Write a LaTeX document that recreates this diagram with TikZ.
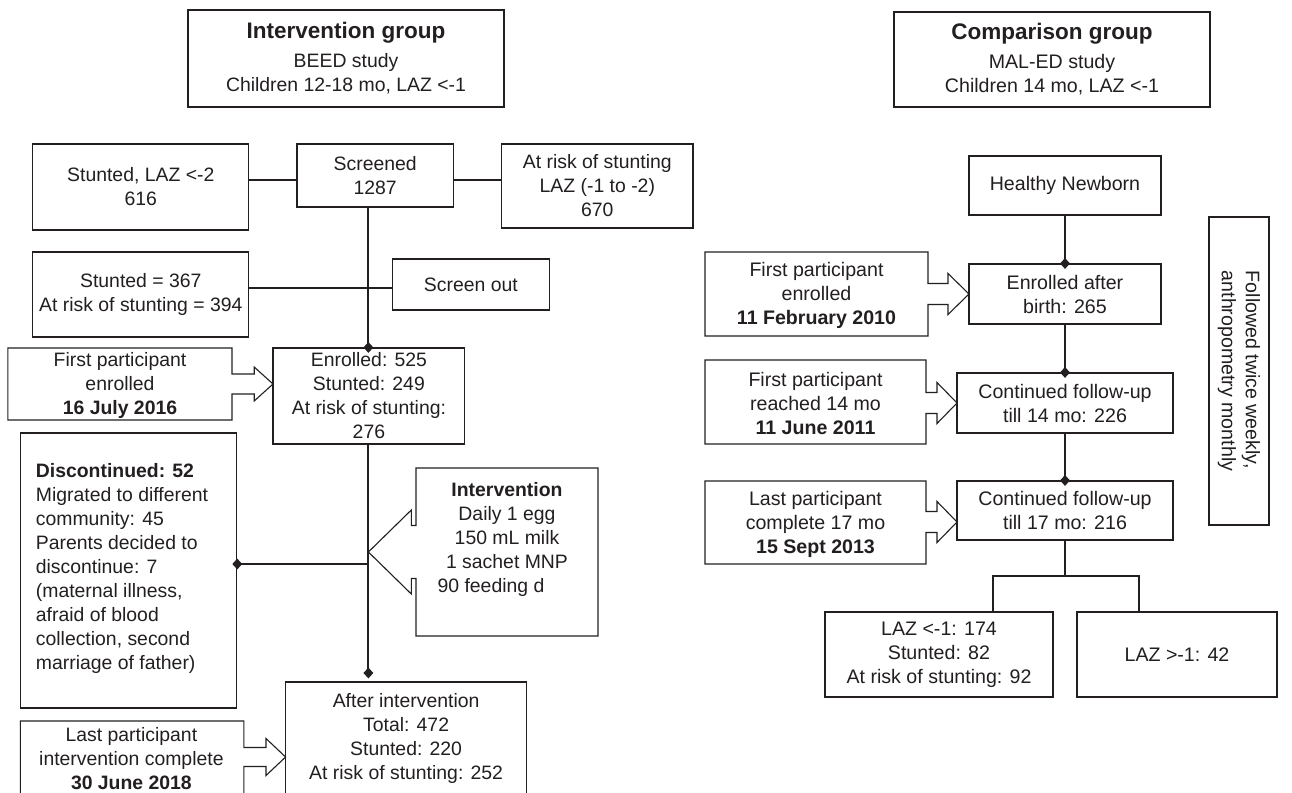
\documentclass[tikz,border=0pt]{standalone}
\usepackage{fontspec}
\setmainfont{Liberation Sans}
\usetikzlibrary{shapes.geometric}
\definecolor{ink}{RGB}{35,31,32}
\newcommand\szL{\fontsize{19.4}{24}\selectfont}
\newcommand\szR{\fontsize{19.6}{24}\selectfont}
\newcommand\szT{\fontsize{22.5}{24}\selectfont\bfseries}
% right-pointing callout: x1 y1 x2 y2 tipy stemhalf headhalf headx tipx
\newcommand\calloutR[9]{\draw[cbox] (#1,#2) -- (#3,#2) -- (#3,#5-#6) -- (#8,#5-#6) -- (#8,#5-#7) -- (#9,#5) -- (#8,#5+#7) -- (#8,#5+#6) -- (#3,#5+#6) -- (#3,#4) -- (#1,#4) -- cycle;}
% left-pointing callout
\newcommand\calloutL[9]{\draw[cbox] (#1,#2) -- (#3,#2) -- (#3,#4) -- (#1,#4) -- (#1,#5+#6) -- (#8,#5+#6) -- (#8,#5+#7) -- (#9,#5) -- (#8,#5-#7) -- (#8,#5-#6) -- (#1,#5-#6) -- cycle;}
\begin{document}
\begin{tikzpicture}[x=1pt,y=-1pt,
  box/.style={draw=ink, line width=1.1pt, inner sep=0pt, align=center, text=ink},
  lbox/.style={box, font=\szL},
  rbox/.style={box, font=\szR},
  cbox/.style={draw=ink, line width=1.1pt, line join=miter},
  ltxt/.style={inner sep=0pt, align=center, text=ink, font=\szL},
  rtxt/.style={inner sep=0pt, align=center, text=ink, font=\szR},
  trunk/.style={draw=ink, line width=1.9pt},
  link/.style={draw=ink, line width=1.3pt},
  dmd/.style={diamond, fill=ink, draw=none, inner sep=0pt, minimum width=10pt, minimum height=11pt},
]
\fill[white] (0,0) rectangle (1292,792);
\useasboundingbox (0,0) rectangle (1292,792);

% ---------- titles ----------
\node[lbox, minimum width=316, minimum height=97] (ig) at (346,58.5)
  {{\szT Intervention group}\\[5pt]BEED study\\Children 12-18 mo, LAZ <-1};
\node[rbox, minimum width=316, minimum height=95] (cg) at (1052,59.5)
  {{\szT Comparison group}\\[5pt]MAL-ED study\\Children 14 mo, LAZ <-1};

% ---------- left column ----------
\node[lbox, minimum width=216, minimum height=86] (stunted) at (140.8,187) {Stunted, LAZ <-2\\616};
\node[lbox, minimum width=156.4, minimum height=63] (screened) at (375.2,175.5) {Screened\\1287};
\node[lbox, minimum width=191.4, minimum height=84] (atrisk) at (597.3,186) {At risk of stunting\\LAZ (-1 to -2)\\670};
\node[lbox, minimum width=216, minimum height=85] (st367) at (140.8,294.5) {Stunted = 367\\At risk of stunting = 394};
\node[lbox, minimum width=156.3, minimum height=51] (scrout) at (470.9,284.5) {Screen out};
\node[lbox, minimum width=191.8, minimum height=96] (enrolled) at (368.9,396) {Enrolled: 525\\Stunted: 249\\At risk of stunting:\\276};
\node[lbox, minimum width=216.4, minimum height=275] (disc) at (128.5,570.5) {};
\node[ltxt, anchor=west, align=left] (disctxt) at (35.7,568)
  {\textbf{Discontinued: 52}\\Migrated to different\\community: 45\\Parents decided to\\discontinue: 7\\(maternal illness,\\afraid of blood\\collection, second\\marriage of father)};
\node[lbox, minimum width=241, minimum height=112] (after) at (406.1,738) {After intervention\\Total: 472\\Stunted: 220\\At risk of stunting: 252};

% callouts (left)
\calloutR{7.9}{348}{232}{420}{384}{10}{17}{254.2}{273}
\node[ltxt] (c1txt) at (120,385.5) {First participant\\enrolled\\\textbf{16 July 2016}};
\calloutR{20.3}{721}{243.9}{800}{757}{9.5}{18.5}{266}{285.6}
\node[ltxt] (c2txt) at (131.4,758.5) {Last participant\\intervention complete\\\textbf{30 June 2018}};
\calloutL{416}{468}{598}{636}{552}{26.5}{42}{411.3}{368.4}
\node[ltxt] (inttxt) at (507,539.5) {\textbf{Intervention}\\Daily 1 egg\\150 mL milk\\1 sachet MNP\\90 feeding d\hspace*{32pt}};

% connectors (left)
\coordinate (h1) at (0,180);
\coordinate (h2) at (0,288);
\coordinate (h3) at (368.4,564);
\coordinate (dA) at (368.4,673);
\draw[link] (stunted.east |- h1) -- (screened.west |- h1);
\draw[link] (screened.east |- h1) -- (atrisk.west |- h1);
\draw[link] (st367.east |- h2) -- (scrout.west |- h2);
\draw[trunk] (dA |- screened.south) -- (dA |- enrolled.north);
\draw[trunk] (dA |- enrolled.south) -- (dA);
\draw[link] (disc.east |- h3) -- (h3);
\node[dmd] (d1) at (dA |- enrolled.north) {};
\node[dmd] (d2) at (dA) {};
\node[dmd] (d3) at (disc.east |- h3) {};

% ---------- right column ----------
\node[rbox, minimum width=192, minimum height=59] (hn) at (1065,185.5) {Healthy Newborn};
\node[rbox, minimum width=192, minimum height=60] (eab) at (1065,294) {Enrolled after\\birth: 265};
\node[rbox, minimum width=216, minimum height=60] (c14) at (1065,403) {Continued follow-up\\till 14 mo: 226};
\node[rbox, minimum width=216, minimum height=59] (c17) at (1065,510.5) {Continued follow-up\\till 17 mo: 216};
\node[rbox, minimum width=228, minimum height=85] (laz1) at (939,654.5) {LAZ <-1: 174\\Stunted: 82\\At risk of stunting: 92};
\node[rbox, minimum width=200, minimum height=85] (laz2) at (1177,654.5) {LAZ >-1: 42};
\node[rbox, rotate=-90, align=left, minimum width=308, minimum height=60] (fol) at (1239,371)
  {Followed twice weekly,\\anthropometry monthly};

\calloutR{705}{252}{928}{336}{294}{10.5}{20.5}{948}{969}
\node[rtxt] (r1txt) at (816.5,295.5) {First participant\\enrolled\\\textbf{11 February 2010}};
\calloutR{705}{360}{926}{444}{403}{10.5}{20.5}{937}{957}
\node[rtxt] (r2txt) at (815.5,403.5) {First participant\\reached 14 mo\hspace*{38pt}\\\textbf{11 June 2011}};
\calloutR{705}{481}{926}{564}{522}{10.5}{20.5}{937}{957}
\node[rtxt] (r3txt) at (815.5,524) {Last participant\\complete 17 mo\hspace*{38pt}\\\textbf{15 Sept 2013}};

\coordinate (sC) at (1065,576);
\coordinate (sL) at (993,576);
\coordinate (sR) at (1139,576);
\draw[trunk] (hn.south) -- (eab.north);
\draw[trunk] (eab.south) -- (c14.north);
\draw[trunk] (c14.south) -- (c17.north);
\draw[link] (c17.south) -- (sC);
\draw[link] (sL |- laz1.north) -- (sL) -- (sR) -- (sR |- laz2.north);
\node[dmd] (d4) at (eab.north) {};
\node[dmd] (d5) at (c14.north) {};
\node[dmd] (d6) at (c17.north) {};
\end{tikzpicture}
\end{document}
